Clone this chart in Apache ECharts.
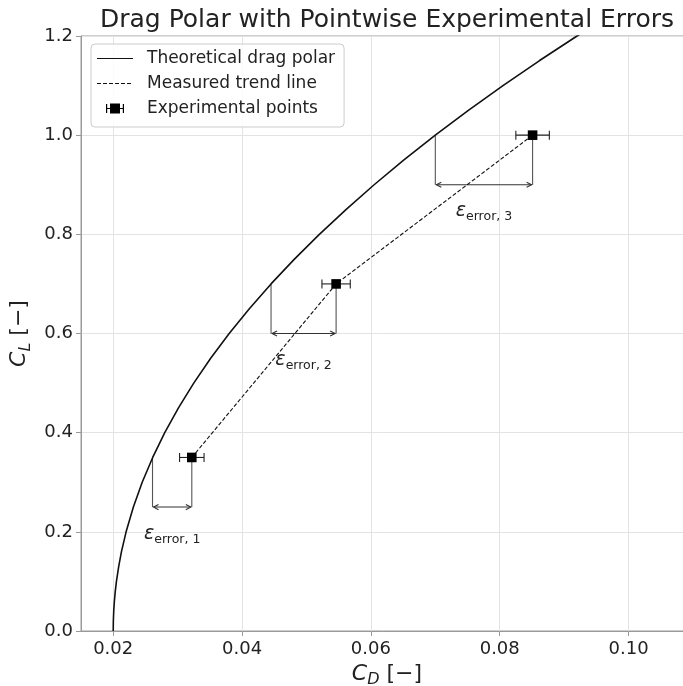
<!DOCTYPE html>
<html><head><meta charset="utf-8">
<script src="https://cdn.jsdelivr.net/npm/echarts@6/dist/echarts.min.js"></script>
<style>html,body{margin:0;padding:0;background:#fff}#c{width:683px;height:686px}</style>
</head><body><div id="c"></div>
<script>
// Theoretical drag polar
const clTheory = [0, 0.01, 0.02, 0.04, 0.06, 0.08, 0.10, 0.13, 0.16, 0.20, 0.25, 0.30, 0.35, 0.40, 0.45, 0.50, 0.55, 0.60, 0.65, 0.70, 0.75, 0.80, 0.85, 0.90, 0.95, 1.00, 1.05, 1.10, 1.15, 1.20, 1.25];
const cdTheory = [0.0200, 0.02001, 0.02002, 0.02008, 0.02018, 0.02032, 0.0205, 0.02085, 0.02128, 0.0220, 0.02313, 0.0245, 0.02613, 0.0280, 0.03013, 0.0325, 0.03513, 0.0380, 0.04113, 0.0445, 0.04813, 0.0520, 0.05613, 0.0605, 0.06513, 0.0700, 0.07513, 0.0805, 0.08613, 0.0920, 0.09813];
// Experimental points
const cdExp = [0.0322, 0.0546, 0.0851];
const clExp = [0.35, 0.70, 1.00];
const cdErr = [0.0019, 0.0022, 0.0026];
// Error brackets
const cdCurveAtExp = [0.0261, 0.0445, 0.0700];
const clBracket = [0.25, 0.60, 0.90];
const clLabel = [0.196, 0.546, 0.847];
const errLabels = ['error, 1', 'error, 2', 'error, 3'];
// Ticks
const xTicks = [0.02, 0.04, 0.06, 0.08, 0.10];
const yTicks = [0.0, 0.2, 0.4, 0.6, 0.8, 1.0, 1.2];

const F = 'DejaVu Sans';
const chart = echarts.init(document.getElementById('c'), null, {renderer: 'canvas'});

const theoryData = clTheory.map((cl, i) => [cdTheory[i], cl]);
const trendData = clExp.map((cl, i) => [cdExp[i], cl]);
const expData = clExp.map((cl, i) => [cdExp[i], cl, cdErr[i]]);
const bracketData = clExp.map((cl, i) => [cdCurveAtExp[i], cdExp[i], cl, clBracket[i]]);
const labelData = clExp.map((cl, i) => [(cdCurveAtExp[i] + cdExp[i]) / 2, clLabel[i], i]);

const axisGray = '#9a9a9a';
const gridGray = '#e3e3e3';

const nameRich = {
  c: {fontFamily: F, fontStyle: 'italic', fontSize: 22, color: '#222', lineHeight: 28, verticalAlign: 'middle'},
  s: {fontFamily: F, fontStyle: 'italic', fontSize: 16, color: '#222', lineHeight: 28, verticalAlign: 'bottom'},
  t: {fontFamily: F, fontSize: 22, color: '#222', lineHeight: 28, verticalAlign: 'middle'}
};

const option = {
  backgroundColor: '#fff',
  animation: false,
  title: {
    text: 'Drag Polar with Pointwise Experimental Errors',
    left: 387, top: 8, padding: 0, textAlign: 'center',
    textStyle: {fontFamily: F, fontSize: 25, fontWeight: 'normal', color: '#222'}
  },
  grid: {left: 81, width: 612, top: 36, bottom: 55, containLabel: false, outerBoundsMode: 'none',
    show: true, borderColor: axisGray, borderWidth: 1, backgroundColor: 'transparent'},
  legend: {
    orient: 'vertical', left: 91, top: 44,
    padding: [6, 9, 10, 6], itemGap: 8, itemWidth: 36, itemHeight: 17,
    backgroundColor: 'rgba(255,255,255,0.85)', borderColor: '#cccccc', borderWidth: 1, borderRadius: 4,
    textStyle: {fontFamily: F, fontSize: 17, color: '#222', padding: [0, 0, 0, 9]},
    selectedMode: false,
    data: [
      {name: 'Theoretical drag polar', icon: 'path://M0 0M0 7.9L36 7.9L36 9.1L0 9.1ZM36 17'},
      {name: 'Measured trend line', icon: 'path://M0 0M0 8h4v1h-4zM6 8h4v1h-4zM12 8h4v1h-4zM18 8h4v1h-4zM24 8h4v1h-4zM30 8h4v1h-4zM36 17'},
      {name: 'Experimental points', icon: 'path://M0 0M9 7.9h18v1.2h-18zM9 4h1.2v9h-1.2zM25.8 4h1.2v9h-1.2zM13 3.5h10v10h-10zM36 17'}
    ]
  },
  xAxis: {
    type: 'value', min: 0.015, max: 0.11,
    name: '{c|C}{s|D}{t| [−]}', nameLocation: 'middle', nameGap: 25,
    nameTextStyle: {rich: nameRich},
    axisLine: {show: true, onZero: false, lineStyle: {color: axisGray, width: 1}},
    axisTick: {show: true, length: 5, customValues: xTicks, lineStyle: {color: axisGray}},
    axisLabel: {customValues: xTicks, formatter: v => v.toFixed(2), fontFamily: F, fontSize: 18, color: '#222', margin: 9},
    splitLine: {show: true, lineStyle: {color: gridGray, width: 1}}
  },
  yAxis: {
    type: 'value', min: 0, max: 1.2, interval: 0.2,
    name: '{c|C}{s|L}{t| [−]}', nameLocation: 'middle', nameGap: 37,
    nameTextStyle: {rich: nameRich},
    axisLine: {show: true, onZero: false, lineStyle: {color: axisGray, width: 1}},
    axisTick: {show: true, length: 5, customValues: yTicks, lineStyle: {color: axisGray}},
    axisLabel: {customValues: yTicks, formatter: v => v.toFixed(1), fontFamily: F, fontSize: 18, color: '#222', margin: 8},
    splitLine: {show: true, lineStyle: {color: gridGray, width: 1}}
  },
  series: [
    {
      name: 'Theoretical drag polar', type: 'line', data: theoryData, showSymbol: false, symbol: 'none',
      lineStyle: {color: '#111', width: 1.6}, itemStyle: {color: '#111'}, clip: true, z: 3
    },
    {
      name: 'Measured trend line', type: 'line', data: trendData, showSymbol: false, symbol: 'none',
      lineStyle: {color: '#111', width: 1.1, type: [4, 2]}, itemStyle: {color: '#111'}, z: 3
    },
    {
      name: 'brackets', type: 'custom', data: bracketData, z: 2,
      renderItem: (params, api) => {
        const xc = api.value(0), xe = api.value(1), yp = api.value(2), yb = api.value(3);
        const a = api.coord([xc, yp]), b = api.coord([xc, yb]);
        const c = api.coord([xe, yp]), d = api.coord([xe, yb]);
        const st = {stroke: '#555', lineWidth: 1.1};
        const ar = {stroke: '#333', lineWidth: 1.1, fill: null};
        const h = 5, w = 2.6;
        return {type: 'group', children: [
          {type: 'line', shape: {x1: a[0], y1: a[1], x2: b[0], y2: b[1]}, style: st},
          {type: 'line', shape: {x1: c[0], y1: c[1], x2: d[0], y2: d[1]}, style: st},
          {type: 'line', shape: {x1: b[0] + 1, y1: b[1], x2: d[0] - 1, y2: d[1]}, style: ar},
          {type: 'polyline', shape: {points: [[b[0] + 1 + h, b[1] - w], [b[0] + 1, b[1]], [b[0] + 1 + h, b[1] + w]]}, style: ar},
          {type: 'polyline', shape: {points: [[d[0] - 1 - h, d[1] - w], [d[0] - 1, d[1]], [d[0] - 1 - h, d[1] + w]]}, style: ar}
        ]};
      }
    },
    {
      name: 'labels', type: 'custom', data: labelData, z: 4,
      renderItem: (params, api) => {
        const p = api.coord([api.value(0), api.value(1)]);
        const idx = api.value(2);
        return {type: 'text', x: p[0], y: p[1], style: {
          text: '{e|ε}{s|' + errLabels[idx] + '}',
          align: 'center', verticalAlign: 'middle',
          rich: {
            e: {fontFamily: F, fontStyle: 'italic', fontSize: 19, fill: '#222', lineHeight: 24, verticalAlign: 'middle'},
            s: {fontFamily: F, fontSize: 12.5, fill: '#222', lineHeight: 24, verticalAlign: 'bottom'}
          }
        }};
      }
    },
    {
      name: 'Experimental points', type: 'custom', data: expData, z: 5,
      itemStyle: {color: '#000'},
      renderItem: (params, api) => {
        const x = api.value(0), y = api.value(1), e = api.value(2);
        const l = api.coord([x - e, y]), r = api.coord([x + e, y]), m = api.coord([x, y]);
        const st = {stroke: '#222', lineWidth: 1.1};
        const cap = 4.5, s = 4.8;
        return {type: 'group', children: [
          {type: 'line', shape: {x1: l[0], y1: l[1], x2: r[0], y2: r[1]}, style: st},
          {type: 'line', shape: {x1: l[0], y1: l[1] - cap, x2: l[0], y2: l[1] + cap}, style: st},
          {type: 'line', shape: {x1: r[0], y1: r[1] - cap, x2: r[0], y2: r[1] + cap}, style: st},
          {type: 'rect', shape: {x: m[0] - s, y: m[1] - s, width: 2 * s, height: 2 * s}, style: {fill: '#000'}}
        ]};
      }
    }
  ]
};
chart.setOption(option);
</script>
</body></html>
